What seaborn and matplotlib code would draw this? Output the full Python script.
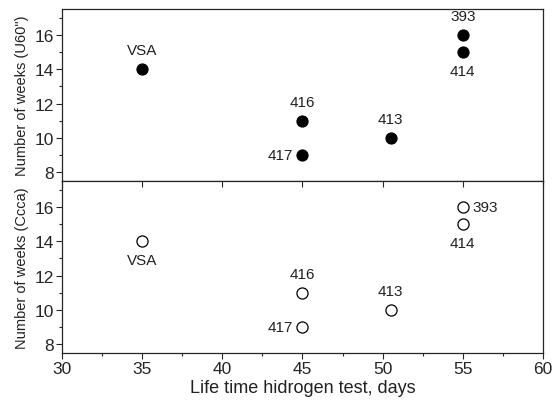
import numpy as np
import pandas as pd
import matplotlib
matplotlib.use("Agg")
import matplotlib.pyplot as plt
import seaborn as sns
from matplotlib.ticker import MultipleLocator

# ── Data ──────────────────────────────────────────────────────────
samples   = ["VSA", "416", "417", "413", "393", "414"]
life_days = [35, 45, 45, 50.5, 55, 55]
weeks_u60 = [14, 11, 9, 10, 16, 15]
weeks_ccca = [14, 11, 9, 10, 16, 15]

# label placement per point (top panel / bottom panel)
pos_top    = ["above", "above", "left", "above", "above", "below"]
pos_bottom = ["below", "above", "left", "above", "right", "below"]

df = pd.DataFrame({
    "sample": samples,
    "days":   life_days,
    "u60":    weeks_u60,
    "ccca":   weeks_ccca,
})

sns.set_style("ticks")
plt.rcParams["font.family"] = ["Liberation Sans", "DejaVu Sans"]

fig = plt.figure(figsize=(5.54, 4.10), dpi=100)
ax_top = fig.add_axes([0.112, 0.556, 0.868, 0.4195])
ax_bot = fig.add_axes([0.112, 0.1366, 0.868, 0.4195])

sns.scatterplot(data=df, x="days", y="u60", ax=ax_top,
                color="black", edgecolor="black", s=64, linewidth=0.8)
sns.scatterplot(data=df, x="days", y="ccca", ax=ax_bot,
                facecolor="white", edgecolor="black", s=64, linewidth=0.9)

offsets = {
    "above": (0, 8.5, "center", "bottom"),
    "below": (0, -8.5, "center", "top"),
    "left":  (-7, 0, "right", "center"),
    "right": (7, 0, "left", "center"),
}


def annotate(ax, xs, ys, names, where):
    for x, y, name, w in zip(xs, ys, names, where):
        dx, dy, ha, va = offsets[w]
        ax.annotate(name, (x, y), xytext=(dx, dy), textcoords="offset points",
                    ha=ha, va=va, fontsize=11, color="#222222")


annotate(ax_top, life_days, weeks_u60, samples, pos_top)
annotate(ax_bot, life_days, weeks_ccca, samples, pos_bottom)

for ax in (ax_top, ax_bot):
    ax.set_xlim(30, 60)
    ax.set_ylim(7.5, 17.5)
    ax.yaxis.set_major_locator(MultipleLocator(2))
    ax.yaxis.set_minor_locator(MultipleLocator(1))
    ax.tick_params(axis="y", which="major", direction="out", length=4,
                   width=0.8, labelsize=12.5, pad=2)
    ax.tick_params(axis="y", which="minor", direction="out", length=2.5,
                   width=0.8)
    for sp in ax.spines.values():
        sp.set_visible(True)
        sp.set_linewidth(0.9)

ax_top.set_ylabel("Number of weeks (U60\")", fontsize=10.5, labelpad=4,
                  color="#222222")
ax_bot.set_ylabel("Number of weeks (Ccca)", fontsize=10.5, labelpad=4,
                  color="#222222")

ax_top.tick_params(axis="x", which="both", bottom=False, labelbottom=False)
ax_top.set_xlabel("")

ax_bot.xaxis.set_major_locator(MultipleLocator(5))
ax_bot.xaxis.set_minor_locator(MultipleLocator(2.5))
ax_bot.tick_params(axis="x", which="major", direction="out", length=4,
                   width=0.8, labelsize=12.5, top=True, pad=2)
ax_bot.tick_params(axis="x", which="minor", direction="out", length=2.5,
                   width=0.8)
ax_bot.set_xlabel("Life time hidrogen test, days", fontsize=13, labelpad=2,
                  color="#222222")

# ticks on the shared boundary point down into the lower panel
for tick in ax_bot.xaxis.get_major_ticks():
    tick.tick2line.set_marker(3)  # TICKDOWN
    tick.tick2line.set_markersize(4)

fig.savefig("out.png", dpi=100)
